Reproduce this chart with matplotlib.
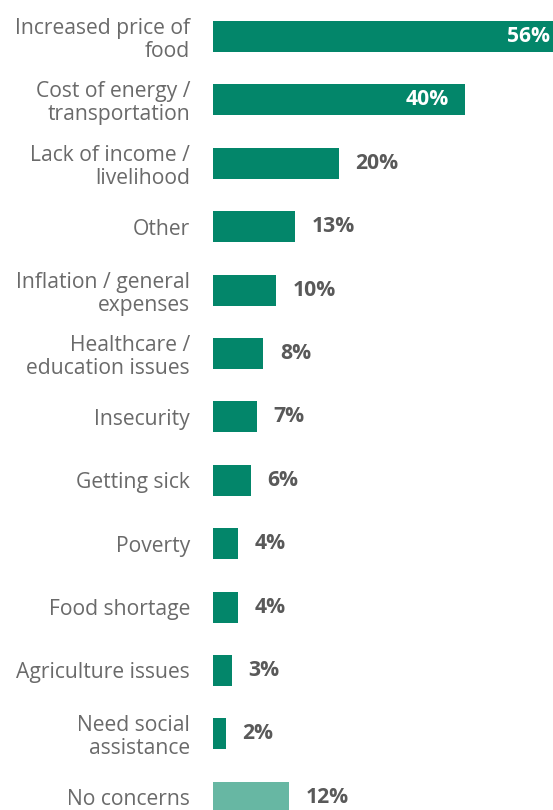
import matplotlib
matplotlib.use("Agg")
import matplotlib.pyplot as plt

categories = [
    "Increased price of\nfood",
    "Cost of energy /\ntransportation",
    "Lack of income /\nlivelihood",
    "Other",
    "Inflation / general\nexpenses",
    "Healthcare /\neducation issues",
    "Insecurity",
    "Getting sick",
    "Poverty",
    "Food shortage",
    "Agriculture issues",
    "Need social\nassistance",
    "No concerns",
]
values = [56, 40, 20, 13, 10, 8, 7, 6, 4, 4, 3, 2, 12]
value_labels = ["56%", "40%", "20%", "13%", "10%", "8%", "7%", "6%", "4%", "4%", "3%", "2%", "12%"]
bar_colors = ["#03866A"] * 12 + ["#67B7A3"]
inside = [True, True] + [False] * 11

W, H, DPI = 553, 810, 100
fig = plt.figure(figsize=(W / DPI, H / DPI), dpi=DPI)
fig.patch.set_facecolor("white")

px_per_unit = 6.3
xmax = 60
left_px = 213
ax = fig.add_axes([left_px / W, 0, xmax * px_per_unit / W, 1])

y0, dy = 36.5, 63.4
ax.set_ylim((H - y0) / dy, -y0 / dy)
ax.set_xlim(0, xmax)

pos = list(range(len(categories)))
ax.barh(pos, values, height=0.49, color=bar_colors, linewidth=0)

for i, (v, lab, ins) in enumerate(zip(values, value_labels, inside)):
    if ins:
        ax.annotate(lab, (v, i), xytext=(-11.5, 0), textcoords="offset points",
                    ha="right", va="center", color="white", fontsize=15.2,
                    fontweight="bold", family="Open Sans")
    else:
        ax.annotate(lab, (v, i), xytext=(12, 0), textcoords="offset points",
                    ha="left", va="center", color="#595959", fontsize=15.2,
                    fontweight="bold", family="Open Sans")

ax.set_yticks(pos)
ax.set_yticklabels(categories, family="Open Sans", fontsize=15.2, color="#6a6a6a",
                   linespacing=1.12)
ax.tick_params(axis="y", length=0, pad=16.5)
ax.set_xticks([])
for s in ax.spines.values():
    s.set_visible(False)

fig.savefig("out.png", dpi=DPI)
